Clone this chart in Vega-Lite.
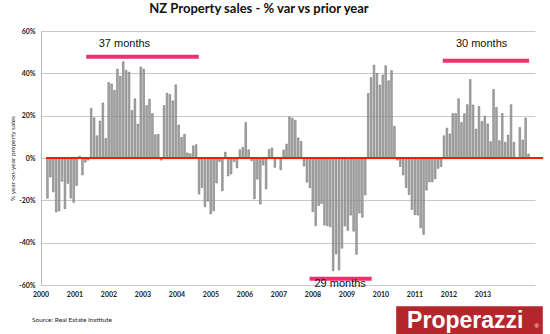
{
  "$schema": "https://vega.github.io/schema/vega-lite/v6.json",
  "width": 494,
  "height": 254,
  "autosize": "none",
  "padding": {"left": 41, "top": 31, "right": 15, "bottom": 49},
  "background": "white",
  "title": {"text": "NZ Property sales - % var vs prior year", "font": "Liberation Sans Narrow, Lato", "fontSize": 13, "fontWeight": "bold", "color": "#111111", "anchor": "middle", "frame": "group", "dx": -29, "offset": 11},
  "config": {"view": {"stroke": null}},
  "resolve": {"scale": {"x": "independent"}},
  "layer": [
    {
      "layer": [
        {
          "data": {"values": [
            {"month":1,"pct":-19},{"month":2,"pct":-9},{"month":3,"pct":-16},{"month":4,"pct":-25.5},{"month":5,"pct":-25},{"month":6,"pct":-11},{"month":7,"pct":-24},{"month":8,"pct":-12},{"month":9,"pct":-19},{"month":10,"pct":-21},{"month":11,"pct":-13},{"month":12,"pct":0.8},
            {"month":13,"pct":-8},{"month":14,"pct":-2},{"month":15,"pct":-1},{"month":16,"pct":23.5},{"month":17,"pct":19},{"month":18,"pct":10.5},{"month":19,"pct":17.5},{"month":20,"pct":26},{"month":21,"pct":9.3},{"month":22,"pct":35.7},{"month":23,"pct":35},{"month":24,"pct":32},
            {"month":25,"pct":42},{"month":26,"pct":38.7},{"month":27,"pct":45.5},{"month":28,"pct":41.4},{"month":29,"pct":40.6},{"month":30,"pct":22.4},{"month":31,"pct":28},{"month":32,"pct":16},{"month":33,"pct":43},{"month":34,"pct":42},{"month":35,"pct":24.8},{"month":36,"pct":27.8},
            {"month":37,"pct":21},{"month":38,"pct":11},{"month":39,"pct":11.2},{"month":40,"pct":-1},{"month":41,"pct":24.8},{"month":42,"pct":30.6},{"month":43,"pct":30},{"month":44,"pct":27},{"month":45,"pct":34.6},{"month":46,"pct":15.6},{"month":47,"pct":9.8},{"month":48,"pct":11.2},
            {"month":49,"pct":2.4},{"month":50,"pct":2},{"month":51,"pct":5.7},{"month":52,"pct":6.3},{"month":53,"pct":-17},{"month":54,"pct":-14},{"month":55,"pct":-23},{"month":56,"pct":-20.4},{"month":57,"pct":-26.4},{"month":58,"pct":-25},{"month":59,"pct":-11.8},{"month":60,"pct":-1.7},
            {"month":61,"pct":-15.5},{"month":62,"pct":2.8},{"month":63,"pct":-8.5},{"month":64,"pct":-7.5},{"month":65,"pct":-1.7},{"month":66,"pct":-4.7},{"month":67,"pct":3.9},{"month":68,"pct":5},{"month":69,"pct":16.8},{"month":70,"pct":3.9},{"month":71,"pct":-1.3},{"month":72,"pct":-19.3},
            {"month":73,"pct":-10},{"month":74,"pct":-21.8},{"month":75,"pct":-3.3},{"month":76,"pct":-14.6},{"month":77,"pct":4},{"month":78,"pct":4.7},{"month":79,"pct":-4.4},{"month":80,"pct":-0.3},{"month":81,"pct":-5.6},{"month":82,"pct":3.8},{"month":83,"pct":6.6},{"month":84,"pct":19.4},
            {"month":85,"pct":18.8},{"month":86,"pct":17.8},{"month":87,"pct":9.5},{"month":88,"pct":7.8},{"month":89,"pct":-3.8},{"month":90,"pct":-11.4},{"month":91,"pct":-14.1},{"month":92,"pct":-25.3},{"month":93,"pct":-32},{"month":94,"pct":-22.5},{"month":95,"pct":-21.5},{"month":96,"pct":-31.7},
            {"month":97,"pct":-32},{"month":98,"pct":-32.5},{"month":99,"pct":-53.3},{"month":100,"pct":-45.4},{"month":101,"pct":-52.9},{"month":102,"pct":-42.6},{"month":103,"pct":-32.1},{"month":104,"pct":-34.2},{"month":105,"pct":-27},{"month":106,"pct":-34.6},{"month":107,"pct":-45.5},{"month":108,"pct":-26},
            {"month":109,"pct":-28},{"month":110,"pct":-17.5},{"month":111,"pct":30.5},{"month":112,"pct":38},{"month":113,"pct":43.9},{"month":114,"pct":39.9},{"month":115,"pct":34.5},{"month":116,"pct":39.2},{"month":117,"pct":43.6},{"month":118,"pct":36.5},{"month":119,"pct":41.3},{"month":120,"pct":15},
            {"month":121,"pct":-1},{"month":122,"pct":-4},{"month":123,"pct":-8},{"month":124,"pct":-14},{"month":125,"pct":-17.2},{"month":126,"pct":-24.3},{"month":127,"pct":-26.8},{"month":128,"pct":-27},{"month":129,"pct":-33},{"month":130,"pct":-36.1},{"month":131,"pct":-15.2},{"month":132,"pct":-11.3},
            {"month":133,"pct":-11.3},{"month":134,"pct":-9.8},{"month":135,"pct":-4.9},{"month":136,"pct":-4.1},{"month":137,"pct":10.5},{"month":138,"pct":14.1},{"month":139,"pct":11.4},{"month":140,"pct":21},{"month":141,"pct":21},{"month":142,"pct":28},{"month":143,"pct":16.8},{"month":144,"pct":21},
            {"month":145,"pct":25.2},{"month":146,"pct":37.1},{"month":147,"pct":25},{"month":148,"pct":13.7},{"month":149,"pct":24.3},{"month":150,"pct":17.3},{"month":151,"pct":19.7},{"month":152,"pct":16.1},{"month":153,"pct":7.7},{"month":154,"pct":32.4},{"month":155,"pct":23.9},{"month":156,"pct":8.2},
            {"month":157,"pct":21},{"month":158,"pct":7.4},{"month":159,"pct":10.9},{"month":160,"pct":25.2},{"month":161,"pct":7.4},{"month":162,"pct":0},{"month":163,"pct":14.4},{"month":164,"pct":8.5},{"month":165,"pct":18.9},{"month":166,"pct":1.9}
          ]},
          "mark": {"type": "bar", "size": 1.7, "color": "#a8a8a8", "stroke": "#6a6a6a", "strokeWidth": 0.5},
          "encoding": {
            "x": {"field": "month", "type": "quantitative", "scale": {"domain": [0.5, 166.5], "nice": false, "zero": false}, "axis": null},
            "y": {"field": "pct", "type": "quantitative", "scale": {"domain": [-60, 60], "nice": false},
              "axis": {"values": [-60, -40, -20, 0, 20, 40, 60], "labelExpr": "datum.value + '%'", "title": "% year-on-year property sales", "titleFont": "Lato", "titleFontSize": 6.5, "titleFontWeight": "normal", "titleColor": "#222222", "titlePadding": 3, "labelFont": "Lato", "labelFontSize": 7, "labelFontWeight": "bold", "labelColor": "#222222", "labelPadding": 6, "ticks": false, "grid": true, "gridColor": "#c8c8c8", "domainColor": "#b8b8b8"}}
          }
        },
        {
          "data": {"values": [{}]},
          "mark": {"type": "rule", "color": "#ff1a00", "strokeWidth": 2},
          "encoding": {"x": {"datum": 0.5}, "x2": {"datum": 171}, "y": {"datum": 0}}
        },
        {
          "data": {"values": [
            {"start": 14.3, "end": 52.9, "level": 47.8},
            {"start": 90.9, "end": 112.2, "level": -57},
            {"start": 136.6, "end": 166.2, "level": 46}
          ]},
          "mark": {"type": "rule", "color": "#f0306c", "strokeWidth": 4},
          "encoding": {"x": {"field": "start", "type": "quantitative"}, "x2": {"field": "end"}, "y": {"field": "level", "type": "quantitative"}}
        },
        {
          "data": {"values": [
            {"label": "37 months", "at": 27.4, "level": 54},
            {"label": "29 months", "at": 101.4, "level": -59.6},
            {"label": "30 months", "at": 149.9, "level": 53.8}
          ]},
          "mark": {"type": "text", "font": "Liberation Sans", "fontSize": 11, "color": "#111111", "baseline": "middle"},
          "encoding": {"x": {"field": "at", "type": "quantitative"}, "y": {"field": "level", "type": "quantitative"}, "text": {"field": "label"}}
        },
        {
          "data": {"values": [{}]},
          "mark": {"type": "text", "text": "Source: Real Estate Institute", "font": "Lato", "fontSize": 6.5, "color": "#222222", "align": "left", "baseline": "middle"},
          "encoding": {"x": {"datum": -4.3}, "y": {"datum": -76.5}}
        },
        {
          "data": {"values": [{}]},
          "mark": {"type": "rect", "color": "#b5262c"},
          "encoding": {"x": {"datum": 120.6}, "x2": {"datum": 170.9}, "y": {"datum": -70}, "y2": {"datum": -83.7}}
        },
        {
          "data": {"values": [{}]},
          "mark": {"type": "text", "text": "Properazzi", "font": "Liberation Sans", "fontSize": 23, "fontWeight": "bold", "color": "white", "align": "center", "baseline": "middle"},
          "encoding": {"x": {"datum": 144.3}, "y": {"datum": -77}}
        },
        {
          "data": {"values": [{}]},
          "mark": {"type": "text", "text": "®", "font": "Liberation Sans", "fontSize": 6, "color": "white", "align": "center", "baseline": "middle"},
          "encoding": {"x": {"datum": 168.8}, "y": {"datum": -79.5}}
        }
      ]
    },
    {
      "data": {"values": [{"year":2000},{"year":2001},{"year":2002},{"year":2003},{"year":2004},{"year":2005},{"year":2006},{"year":2007},{"year":2008},{"year":2009},{"year":2010},{"year":2011},{"year":2012},{"year":2013}]},
      "mark": {"type": "text", "font": "Lato", "fontSize": 7, "fontWeight": "bold", "color": "#222222", "baseline": "top", "dy": 6},
      "encoding": {
        "x": {"field": "year", "type": "quantitative", "scale": {"domain": [2000, 2014.53], "nice": false, "zero": false}, "axis": null},
        "y": {"datum": -60},
        "text": {"field": "year", "type": "quantitative", "format": "d"}
      }
    }
  ]
}
